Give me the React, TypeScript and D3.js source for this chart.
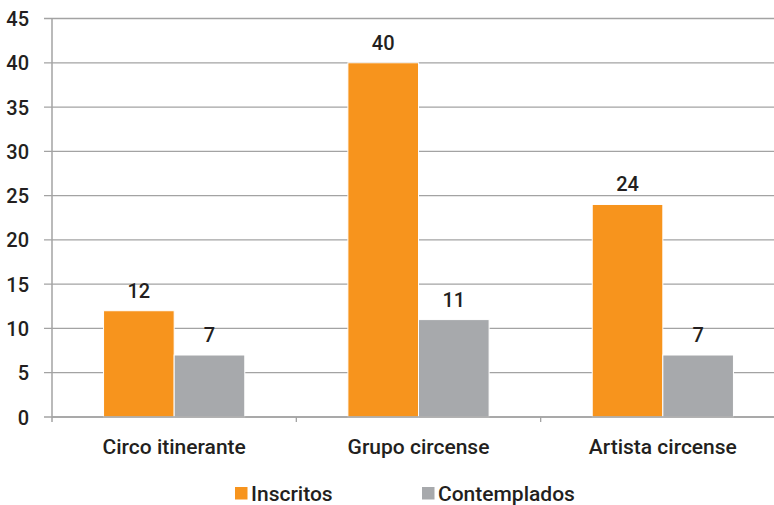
import React, { useEffect, useRef } from 'react';
import * as d3 from 'd3';

const categories = ['Circo itinerante', 'Grupo circense', 'Artista circense'];
const seriesNames = ['Inscritos', 'Contemplados'];
const inscritos = [12, 40, 24];
const contemplados = [7, 11, 7];
const yTicks = [0, 5, 10, 15, 20, 25, 30, 35, 40, 45];

const colors = ['#F7941D', '#A7A9AC'];
const FONT = 'Roboto, "DejaVu Sans", sans-serif';

export default function App() {
  const svgRef = useRef<SVGSVGElement>(null);

  useEffect(() => {
    if (!svgRef.current) return;
    const svg = d3.select(svgRef.current);
    svg.selectAll('*').remove();

    const left = 52;
    const right = 785;
    const top = 18.5;
    const bottom = 417;

    const x = d3.scaleBand().domain(categories).range([left, right]).paddingInner(0).paddingOuter(0);
    const inner = d3.scaleBand().domain(seriesNames).range([0, x.bandwidth()]).paddingInner(0).paddingOuter(0.73);
    const y = d3.scaleLinear().domain([0, 45]).range([bottom, top]);

    // gridlines + y ticks
    svg.append('g')
      .selectAll('line')
      .data(yTicks)
      .join('line')
      .attr('x1', left - 8)
      .attr('x2', 774)
      .attr('y1', d => y(d))
      .attr('y2', d => y(d))
      .attr('stroke', '#A3A3A3')
      .attr('stroke-width', 1.3);

    svg.append('g')
      .selectAll('text')
      .data(yTicks)
      .join('text')
      .attr('x', 29)
      .attr('y', d => y(d) + 7.5)
      .attr('text-anchor', 'end')
      .style('font-family', FONT)
      .style('font-size', '20px')
      .style('font-weight', 500)
      .style('fill', '#231F20')
      .text(d => String(d));

    // bars
    const rows = categories.map((c, i) => ({ c, vals: [inscritos[i], contemplados[i]] }));
    const groups = svg.append('g')
      .selectAll('g')
      .data(rows)
      .join('g')
      .attr('transform', d => `translate(${x(d.c)},0)`);

    groups.selectAll('rect')
      .data(d => d.vals.map((v, k) => ({ v, k })))
      .join('rect')
      .attr('x', d => inner(seriesNames[d.k])!)
      .attr('y', d => y(d.v))
      .attr('width', inner.bandwidth())
      .attr('height', d => bottom - y(d.v))
      .attr('fill', d => colors[d.k])
      .attr('stroke', '#fff')
      .attr('stroke-width', 1);

    groups.selectAll('text')
      .data(d => d.vals.map((v, k) => ({ v, k })))
      .join('text')
      .attr('x', d => inner(seriesNames[d.k])! + inner.bandwidth() / 2)
      .attr('y', d => y(d.v) - 13)
      .attr('text-anchor', 'middle')
      .style('font-family', FONT)
      .style('font-size', '20px')
      .style('font-weight', 500)
      .style('fill', '#231F20')
      .text(d => String(d.v));

    // axes lines
    svg.append('line')
      .attr('x1', left).attr('x2', left)
      .attr('y1', top).attr('y2', bottom + 5)
      .attr('stroke', '#A3A3A3').attr('stroke-width', 1.5);
    svg.append('line')
      .attr('x1', left).attr('x2', 774)
      .attr('y1', bottom).attr('y2', bottom)
      .attr('stroke', '#A3A3A3').attr('stroke-width', 1.5);

    // category boundary ticks
    svg.append('g')
      .selectAll('line')
      .data(categories.slice(1))
      .join('line')
      .attr('x1', d => x(d)!)
      .attr('x2', d => x(d)!)
      .attr('y1', bottom)
      .attr('y2', bottom + 5)
      .attr('stroke', '#A3A3A3')
      .attr('stroke-width', 1.3);

    // category labels
    svg.append('g')
      .selectAll('text')
      .data(categories)
      .join('text')
      .attr('x', d => x(d)! + x.bandwidth() / 2)
      .attr('y', 454)
      .attr('text-anchor', 'middle')
      .style('font-family', FONT)
      .style('font-size', '21px')
      .style('font-weight', 500)
      .style('fill', '#231F20')
      .text(d => d);

    // legend
    const legendX = [235, 422];
    const legend = svg.append('g')
      .selectAll('g')
      .data(seriesNames)
      .join('g')
      .attr('transform', (d, i) => `translate(${legendX[i]},487)`);
    legend.append('rect')
      .attr('width', 12.5)
      .attr('height', 12.5)
      .attr('fill', (d, i) => colors[i]);
    legend.append('text')
      .attr('x', 16)
      .attr('y', 13.5)
      .style('font-family', FONT)
      .style('font-size', '21px')
      .style('font-weight', 500)
      .style('fill', '#231F20')
      .text(d => d);
  }, []);

  return (
    <svg
      ref={svgRef}
      width={774}
      height={505}
      style={{ position: 'absolute', left: 0, top: 0, background: '#fff' }}
    />
  );
}
